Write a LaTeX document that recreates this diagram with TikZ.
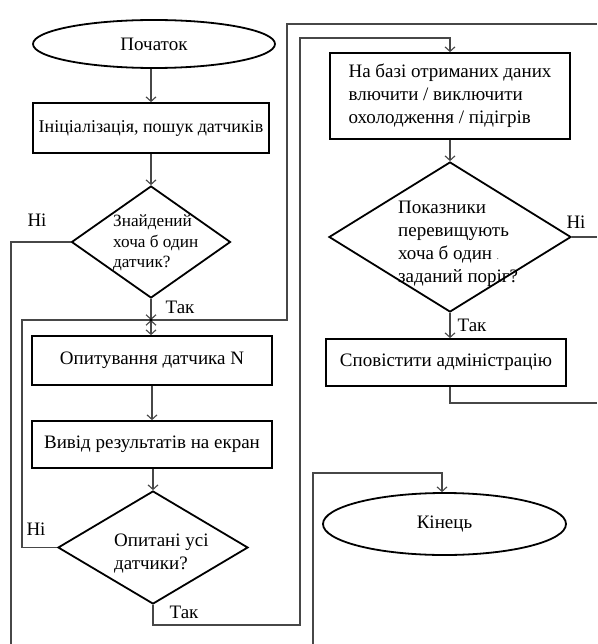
\documentclass[tikz,border=0pt]{standalone}
\usepackage{fontspec}
\setmainfont{Liberation Serif}
\usetikzlibrary{shapes.geometric,arrows.meta}
\begin{document}
\begin{tikzpicture}[x=1pt,y=-1pt,
  font=\fontsize{19}{23}\selectfont,
  shp/.style={draw=black, line width=1.8pt},
  box/.style={shp, rectangle, inner sep=0pt, align=left},
  term/.style={shp, ellipse, inner sep=0pt},
  dia/.style={shp, diamond, inner sep=0pt},
  dtext/.style={anchor=west, align=left, inner sep=0pt},
  con/.style={draw=black!72, line width=1.1pt},
  tip/.tip={Straight Barb[length=4.5pt,width=10pt]},
  arr/.style={con, -tip},
  lbl/.style={inner sep=0pt},
]
\useasboundingbox (0,0) rectangle (597,644);

% left column
\node[term, minimum width=242pt, minimum height=48pt] (start) at (154,44) {Початок};
\node[box, minimum width=236pt, minimum height=50pt, font=\fontsize{18}{23}\selectfont] (init) at (151,128) {Ініціалізація, пошук датчиків};
\node[dia, minimum width=159pt, minimum height=112pt] (d1) at (151,242) {};
\node[dtext, font=\fontsize{17.2}{20.5}\selectfont] (d1t) at (113,243) {Знайдений\\хоча б один\\датчик?};
\coordinate (J) at (151,320);
\node[box, minimum width=240pt, minimum height=49pt] (poll) at (152,360.5) {Опитування датчика N};
\node[box, minimum width=240pt, minimum height=47pt] (out) at (152,444.5) {Вивід результатів на екран};
\node[dia, minimum width=190pt, minimum height=113pt] (d2) at (153,547.5) {};
\node[dtext] (d2t) at (114,554) {Опитані усі\\датчики?};

% right column
\node[box, minimum width=240pt, minimum height=86pt] (base) at (450,96) {На базі отриманих даних\\влючити / виключити\\охолодження / підігрів};
\node[dia, minimum width=242pt, minimum height=150pt] (d3) at (450,237) {};
\node[dtext] (d3t) at (398,244) {Показники\\перевищують\\хоча б один {\fontsize{8}{8}\selectfont .}\\заданий поріг?};
\node[box, minimum width=240pt, minimum height=47pt] (notify) at (446,362.5) {Сповістити адміністрацію};
\node[term, minimum width=243pt, minimum height=62pt] (end) at (444.5,524) {Кінець};

% helper coordinates
\coordinate (e1) at (11,644);
\coordinate (L2) at (22,320);
\coordinate (R1) at (287,320);
\coordinate (e2) at (597,24);
\coordinate (B1) at (300,625);
\coordinate (B2) at (300,38);
\coordinate (e3) at (597,237);
\coordinate (e4) at (597,403);
\coordinate (e5) at (313,644);
\coordinate (K) at (442,473);

% connectors
\draw[arr] (start.south -| init.north) -- (init.north);
\draw[arr] (init.south -| d1.north) -- (d1.north);
\draw[arr] (d1.south) -- (J);
\draw[con, tip-tip] (J) -- (J |- poll.north);
\draw[arr] (poll.south) -- (out.north);
\draw[arr] (out.south -| d2.north) -- (d2.north);
\draw[con] (d1.west) -| (e1);
\draw[con] (d2.west) -| (L2) -- (R1) |- (e2);
\fill[black] (J) circle (1.6pt);
\draw[arr] (d2.south) |- (B1) -- (B2) -| (base.north);
\draw[arr] (base.south) -- (d3.north);
\draw[arr] (d3.south) -- (d3.south |- notify.north);
\draw[con] (d3.east) -- (e3);
\draw[con] (notify.south -| d3.south) |- (e4);
\draw[arr] (e5) |- (K) -- (K |- end.north);

% labels
\node[lbl] (n1) at (37,220) {Ні};
\node[lbl] (y1) at (180,307) {Так};
\node[lbl] (n2) at (36,529) {Ні};
\node[lbl] (y2) at (184,612) {Так};
\node[lbl] (n3) at (576,222) {Ні};
\node[lbl] (y3) at (472,325) {Так};
\end{tikzpicture}
\end{document}
